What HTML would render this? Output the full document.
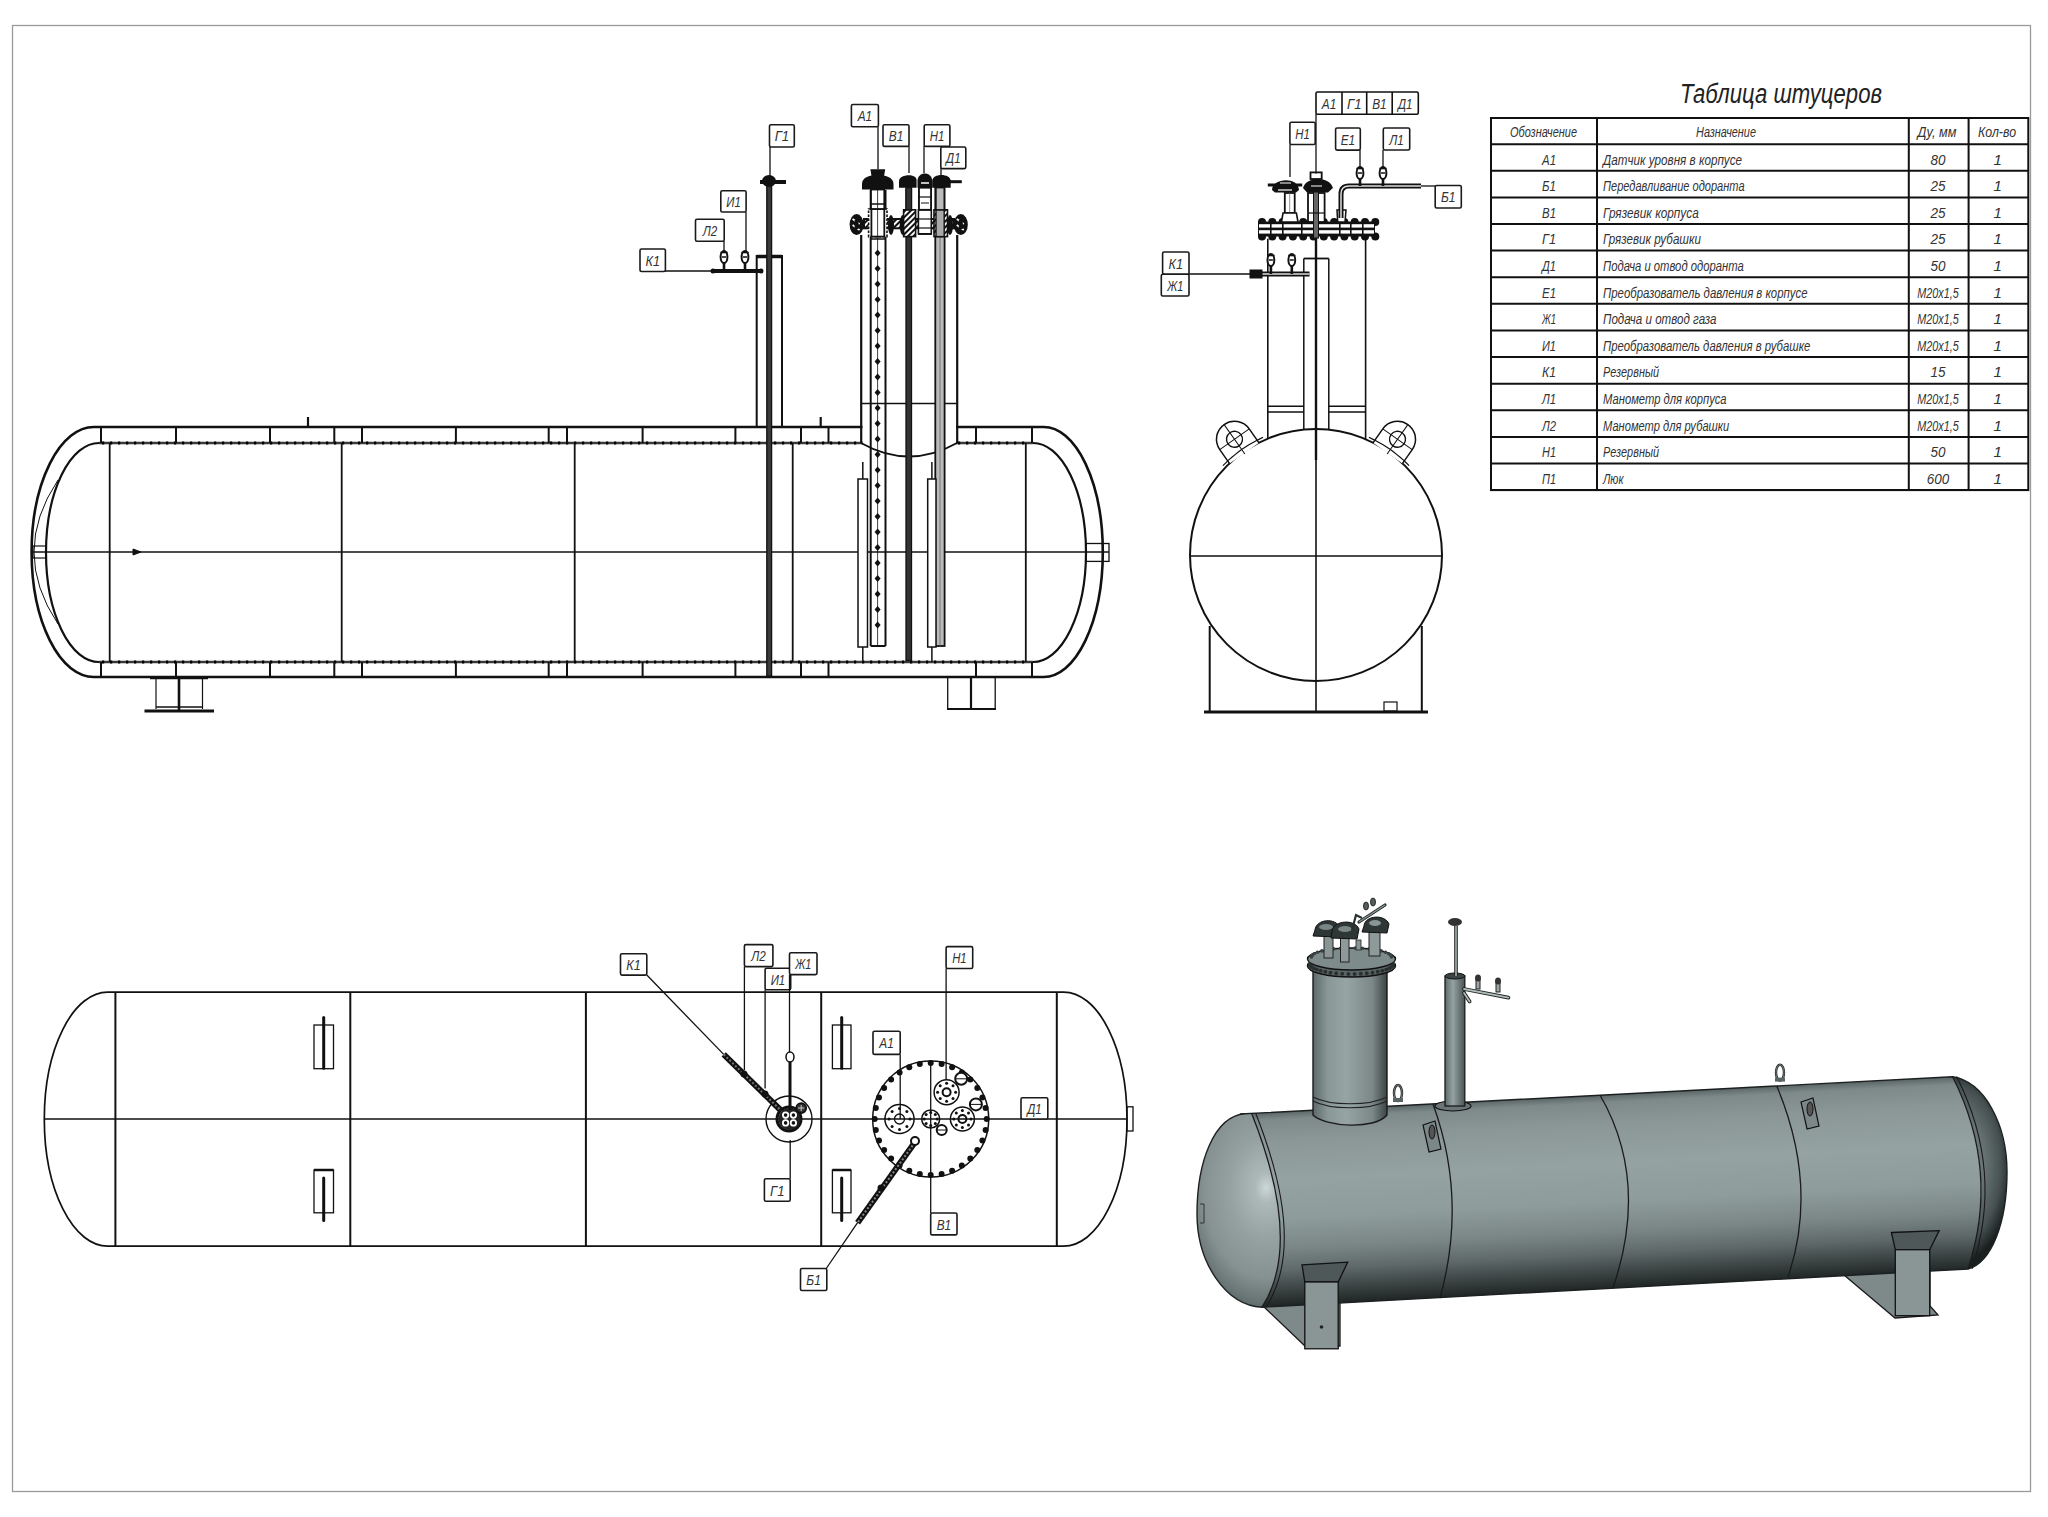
<!DOCTYPE html>
<html><head><meta charset="utf-8"><title>drawing</title>
<style>
html,body{margin:0;padding:0;background:#fff;overflow:hidden;}
svg{display:block;}
.lb{font-family:"Liberation Sans",sans-serif;font-style:italic;fill:#333;}
.tx{font-family:"Liberation Sans",sans-serif;font-style:italic;fill:#333;}
.tt{font-family:"Liberation Sans",sans-serif;font-style:italic;fill:#222;}
</style></head><body>
<svg width="2048" height="1517" viewBox="0 0 2048 1517" stroke-linecap="butt">
<rect x="0" y="0" width="2048" height="1517" fill="#fff"/>
<defs>
<linearGradient id="gBody" gradientUnits="userSpaceOnUse" x1="1600" y1="1095" x2="1610" y2="1289">
<stop offset="0" stop-color="#5a6464"/>
<stop offset="0.04" stop-color="#7e8a8a"/>
<stop offset="0.15" stop-color="#8b9797"/>
<stop offset="0.35" stop-color="#95a2a2"/>
<stop offset="0.55" stop-color="#8f9c9c"/>
<stop offset="0.7" stop-color="#7b8787"/>
<stop offset="0.82" stop-color="#5e6868"/>
<stop offset="0.92" stop-color="#3a4242"/>
<stop offset="1" stop-color="#1f2525"/>
</linearGradient>
<radialGradient id="gLHead" gradientUnits="userSpaceOnUse" cx="1266" cy="1190" r="105" fx="1266" fy="1188" gradientTransform="translate(1266 1190) scale(0.85 1.2) translate(-1266 -1190)">
<stop offset="0" stop-color="#ccd8d8"/>
<stop offset="0.12" stop-color="#adb9b9"/>
<stop offset="0.4" stop-color="#96a2a2"/>
<stop offset="0.7" stop-color="#869292"/>
<stop offset="0.88" stop-color="#6a7676"/>
<stop offset="1" stop-color="#525c5c"/>
</radialGradient>
<radialGradient id="gRHead" gradientUnits="userSpaceOnUse" cx="1955" cy="1165" r="58" fx="1955" fy="1165" gradientTransform="translate(1955 1165) scale(1 1.7) translate(-1955 -1165)">
<stop offset="0" stop-color="#7e8a8a"/>
<stop offset="0.5" stop-color="#687474"/>
<stop offset="0.8" stop-color="#465050"/>
<stop offset="1" stop-color="#1a2020"/>
</radialGradient>
<linearGradient id="gRiser" x1="0" y1="0" x2="1" y2="0">
<stop offset="0" stop-color="#5e6a6a"/>
<stop offset="0.2" stop-color="#8a9797"/>
<stop offset="0.45" stop-color="#97a4a4"/>
<stop offset="0.8" stop-color="#7c8888"/>
<stop offset="1" stop-color="#3c4444"/>
</linearGradient>
<linearGradient id="gPipe" x1="0" y1="0" x2="1" y2="0">
<stop offset="0" stop-color="#5e6a6a"/>
<stop offset="0.4" stop-color="#95a2a2"/>
<stop offset="1" stop-color="#4a5454"/>
</linearGradient>
</defs>
<path d="M 1262 1305 L 1305 1346 L 1340 1346 L 1340 1300 Z" fill="#7e8a8a" stroke="#1a1a1a" stroke-width="1.3"/>
<path d="M 1844 1275 L 1895 1318 L 1938 1315 L 1930 1306 L 1930 1268 Z" fill="#7e8a8a" stroke="#1a1a1a" stroke-width="1.3"/>
<path d="M 1251.7 1113.4 L 1952.6 1076.8 Q 2000.8 1171.1 1968 1269 L 1262 1307.2 Q 1303.15 1243.2 1251.7 1113.4 Z" fill="url(#gBody)"/>
<path d="M 1952.6 1076.8 C 1985 1082, 2007 1125, 2007 1172 C 2007 1222, 1992 1262, 1968 1269 Q 2000.8 1171.1 1952.6 1076.8 Z" fill="url(#gRHead)"/>
<path d="M 1251.7 1113.4 Q 1303.15 1243.2 1262 1307.2 C 1225 1305, 1197 1262, 1197 1214 C 1197 1162, 1214 1116, 1245 1113.7 L 1251.7 1113.4 Z" fill="url(#gLHead)"/>
<path d="M 1240 1114 L 1952.6 1076.8 C 1985 1082, 2007 1125, 2007 1172 C 2007 1222, 1992 1262, 1968 1269 L 1262 1307.2 C 1225 1305, 1197 1262, 1197 1214 C 1197 1162, 1214 1116, 1245 1113.7 Z" stroke="#1c2020" stroke-width="1.4" fill="none"/>
<path d="M 1251.7 1113.4 Q 1303.2 1243.7 1262 1307.2" stroke="#1a1a1a" stroke-width="1.3" fill="none"/>
<path d="M 1255.7 1113.2 Q 1307.2 1243.7 1266 1307.0" stroke="#1a1a1a" stroke-width="1.1" fill="none"/>
<path d="M 1433 1104 Q 1467.5 1199.0 1440 1298" stroke="#1a1a1a" stroke-width="1.3" fill="none"/>
<path d="M 1600 1095 Q 1649.5 1180.5 1613 1288" stroke="#1a1a1a" stroke-width="1.3" fill="none"/>
<path d="M 1776.8 1086 Q 1818.8 1186.5 1788 1277" stroke="#1a1a1a" stroke-width="1.3" fill="none"/>
<path d="M 1952.6 1076.8 Q 2000.3 1171.1 1968 1269" stroke="#1a1a1a" stroke-width="1.3" fill="none"/>
<path d="M 1956.6 1076.6 Q 2004.3 1171.1 1972 1268.8" stroke="#1a1a1a" stroke-width="1.1" fill="none"/>
<path d="M 1302 1264.8 L 1347.7 1262.2 L 1338.2 1282 L 1304.8 1282 Z" fill="#4e5858" stroke="#111" stroke-width="1.3"/>
<rect x="1304.8" y="1282" width="33.4" height="66.8" fill="#8a9595" stroke="#111" stroke-width="1.3"/>
<circle cx="1321.5" cy="1327" r="1.8" fill="#222"/>
<path d="M 1891.4 1232.5 L 1939.2 1230.6 L 1929.7 1249.7 L 1895.3 1249.7 Z" fill="#4e5858" stroke="#111" stroke-width="1.3"/>
<rect x="1895.3" y="1249.7" width="34.4" height="66" fill="#8a9595" stroke="#111" stroke-width="1.3"/>
<path d="M 1313 965 L 1313 1115 C 1325 1127, 1375 1130, 1387 1115 L 1387 965 Z" fill="url(#gRiser)" stroke="#1a1a1a" stroke-width="1.4"/>
<path d="M 1313 1097 C 1330 1106, 1370 1106, 1387 1097" stroke="#222" stroke-width="1.2" fill="none"/>
<path d="M 1313 1101 C 1330 1110, 1370 1110, 1387 1101" stroke="#222" stroke-width="1.2" fill="none"/>
<ellipse cx="1351.5" cy="966" rx="44" ry="11" fill="#5a6565" stroke="#111" stroke-width="1.4"/>
<ellipse cx="1351.5" cy="959" rx="44" ry="11" fill="#7e8b8b" stroke="#111" stroke-width="1.4"/>
<circle cx="1309.5" cy="964.0" r="2" fill="#2a3030"/>
<circle cx="1310.0" cy="965.5" r="2" fill="#2a3030"/>
<circle cx="1311.4" cy="966.9" r="2" fill="#2a3030"/>
<circle cx="1313.7" cy="968.3" r="2" fill="#2a3030"/>
<circle cx="1316.8" cy="969.6" r="2" fill="#2a3030"/>
<circle cx="1320.7" cy="970.8" r="2" fill="#2a3030"/>
<circle cx="1325.3" cy="971.8" r="2" fill="#2a3030"/>
<circle cx="1330.5" cy="972.7" r="2" fill="#2a3030"/>
<circle cx="1336.2" cy="973.3" r="2" fill="#2a3030"/>
<circle cx="1342.2" cy="973.7" r="2" fill="#2a3030"/>
<circle cx="1348.4" cy="974.0" r="2" fill="#2a3030"/>
<circle cx="1354.6" cy="974.0" r="2" fill="#2a3030"/>
<circle cx="1360.8" cy="973.7" r="2" fill="#2a3030"/>
<circle cx="1366.8" cy="973.3" r="2" fill="#2a3030"/>
<circle cx="1372.5" cy="972.7" r="2" fill="#2a3030"/>
<circle cx="1377.7" cy="971.8" r="2" fill="#2a3030"/>
<circle cx="1382.3" cy="970.8" r="2" fill="#2a3030"/>
<circle cx="1386.2" cy="969.6" r="2" fill="#2a3030"/>
<circle cx="1389.3" cy="968.3" r="2" fill="#2a3030"/>
<circle cx="1391.6" cy="966.9" r="2" fill="#2a3030"/>
<circle cx="1393.0" cy="965.5" r="2" fill="#2a3030"/>
<circle cx="1393.5" cy="964.0" r="2" fill="#2a3030"/>
<circle cx="1311.5" cy="957.0" r="1.8" fill="#3a4242"/>
<circle cx="1312.2" cy="955.3" r="1.8" fill="#3a4242"/>
<circle cx="1314.2" cy="953.7" r="1.8" fill="#3a4242"/>
<circle cx="1317.5" cy="952.3" r="1.8" fill="#3a4242"/>
<circle cx="1321.9" cy="950.9" r="1.8" fill="#3a4242"/>
<circle cx="1327.4" cy="949.8" r="1.8" fill="#3a4242"/>
<circle cx="1333.7" cy="948.9" r="1.8" fill="#3a4242"/>
<circle cx="1340.6" cy="948.3" r="1.8" fill="#3a4242"/>
<circle cx="1347.8" cy="948.0" r="1.8" fill="#3a4242"/>
<circle cx="1355.2" cy="948.0" r="1.8" fill="#3a4242"/>
<circle cx="1362.4" cy="948.3" r="1.8" fill="#3a4242"/>
<circle cx="1369.3" cy="948.9" r="1.8" fill="#3a4242"/>
<circle cx="1375.6" cy="949.8" r="1.8" fill="#3a4242"/>
<circle cx="1381.1" cy="950.9" r="1.8" fill="#3a4242"/>
<circle cx="1385.5" cy="952.3" r="1.8" fill="#3a4242"/>
<circle cx="1388.8" cy="953.7" r="1.8" fill="#3a4242"/>
<circle cx="1390.8" cy="955.3" r="1.8" fill="#3a4242"/>
<circle cx="1391.5" cy="957.0" r="1.8" fill="#3a4242"/>
<rect x="1324" y="934" width="9" height="24" fill="#8a9696" stroke="#222" stroke-width="1"/>
<rect x="1340.5" y="938" width="8.5" height="24" fill="#8e9a9a" stroke="#222" stroke-width="1"/>
<rect x="1369" y="928" width="11" height="28" fill="#8e9a9a" stroke="#222" stroke-width="1"/>
<rect x="1356" y="940" width="5" height="10" fill="#8a9696" stroke="#222" stroke-width="0.8"/>
<path d="M 1315 930 C 1316 919, 1336 917, 1340 928 L 1338 937 L 1313 936 Z" fill="#2e3636" stroke="#111" stroke-width="1"/>
<path d="M 1332 931 C 1334 920, 1355 919, 1359 929 L 1357 939 L 1331 938 Z" fill="#2e3636" stroke="#111" stroke-width="1"/>
<path d="M 1364 926 C 1365 915, 1385 914, 1389 924 L 1387 933 L 1362 932 Z" fill="#2e3636" stroke="#111" stroke-width="1"/>
<ellipse cx="1326" cy="927" rx="7" ry="3" fill="#7a8686"/><ellipse cx="1345" cy="929" rx="7" ry="3" fill="#7a8686"/><ellipse cx="1375" cy="923" rx="6" ry="3" fill="#8a9696"/>
<path d="M 1359 922 L 1385 905" stroke="#2a3030" stroke-width="3.2" stroke-linecap="round"/>
<path d="M 1359 922 L 1385 905" stroke="#8a9696" stroke-width="1.2"/>
<ellipse cx="1366" cy="906" rx="2.5" ry="4" fill="#555f5f" stroke="#111" stroke-width="0.8"/><ellipse cx="1373" cy="902" rx="2.5" ry="4" fill="#555f5f" stroke="#111" stroke-width="0.8"/>
<path d="M 1352 930 L 1356 915 L 1362 918" stroke="#2a3030" stroke-width="2.2" fill="none"/>
<ellipse cx="1453" cy="1106" rx="18" ry="5" fill="#6a7676" stroke="#111" stroke-width="1.2"/>
<rect x="1445" y="976" width="19.8" height="130" fill="url(#gPipe)" stroke="#1a1a1a" stroke-width="1.3"/>
<ellipse cx="1455" cy="976" rx="10" ry="3" fill="#3a4444" stroke="#111" stroke-width="1"/>
<line x1="1456" y1="926" x2="1456" y2="976" stroke="#222" stroke-width="3.6"/>
<line x1="1456" y1="926" x2="1456" y2="976" stroke="#a8b4b4" stroke-width="1.6"/>
<ellipse cx="1455" cy="922" rx="7" ry="4" fill="#333"/>
<path d="M 1464 989 L 1508.4 997.6" stroke="#222" stroke-width="3.8" stroke-linecap="round"/>
<path d="M 1464 989 L 1508.4 997.6" stroke="#b0bcbc" stroke-width="1.8" stroke-linecap="round"/>
<path d="M 1464 993 L 1469.6 1001.5" stroke="#222" stroke-width="3.8" stroke-linecap="round"/>
<path d="M 1464 993 L 1469.6 1001.5" stroke="#b0bcbc" stroke-width="1.8" stroke-linecap="round"/>
<rect x="1476" y="979" width="4" height="10" fill="#9aa6a6" stroke="#222" stroke-width="1"/><rect x="1496" y="982" width="4" height="10" fill="#9aa6a6" stroke="#222" stroke-width="1"/>
<ellipse cx="1478" cy="978" rx="3" ry="3.5" fill="#333"/><ellipse cx="1498" cy="981" rx="3" ry="3.5" fill="#333"/>
<path d="M 1423 1125 L 1435 1121 L 1441 1149 L 1429 1152 Z" fill="#7c8888" stroke="#111" stroke-width="1.2"/>
<ellipse cx="1432" cy="1132" rx="3" ry="7" fill="#555" stroke="#111" stroke-width="1"/>
<path d="M 1801 1102 L 1813 1098 L 1819 1126 L 1807 1129 Z" fill="#7c8888" stroke="#111" stroke-width="1.2"/>
<ellipse cx="1810" cy="1109" rx="3" ry="7" fill="#555" stroke="#111" stroke-width="1"/>
<ellipse cx="1398" cy="1093" rx="4" ry="8" fill="none" stroke="#222" stroke-width="2.4"/>
<ellipse cx="1398" cy="1093" rx="4" ry="8" fill="none" stroke="#8a9696" stroke-width="0.8"/>
<rect x="1393" y="1098" width="10" height="4" fill="#5a6464"/>
<ellipse cx="1780" cy="1072.6" rx="4" ry="8" fill="none" stroke="#222" stroke-width="2.4"/>
<ellipse cx="1780" cy="1072.6" rx="4" ry="8" fill="none" stroke="#8a9696" stroke-width="0.8"/>
<rect x="1775" y="1077.6" width="10" height="4" fill="#5a6464"/>
<path d="M 1200 1204 L 1204 1204 L 1204 1223 L 1200 1223" stroke="#333" stroke-width="1" fill="none"/>
<rect x="12.5" y="25.5" width="2018.0" height="1466.0" stroke="#9a9a9a" stroke-width="1.3" fill="none" />
<path d="M 93.8 427 L 1043.7 427 A 59.1 125 0 0 1 1102.8 552 A 59.1 125 0 0 1 1043.7 677 L 93.8 677 A 62.2 125 0 0 1 31.6 552 A 62.2 125 0 0 1 93.8 427 Z" stroke="#111" stroke-width="2.6" fill="none" />
<path d="M 99 443 L 1033 443 A 53 109.5 0 0 1 1086 552.5 A 53 109.5 0 0 1 1033 662 L 99 662 A 53 109.5 0 0 1 46 552.5 A 53 109.5 0 0 1 99 443 Z" stroke="#111" stroke-width="2.2" fill="none" />
<line x1="99.0" y1="443.0" x2="1033.0" y2="443.0" stroke="#3a3a3a" stroke-width="2.6" />
<line x1="102.0" y1="443.0" x2="1030.0" y2="443.0" stroke="#000" stroke-width="2.8" stroke-dasharray="2.2 5.8"/>
<line x1="99.0" y1="662.0" x2="1033.0" y2="662.0" stroke="#3a3a3a" stroke-width="2.6" />
<line x1="102.0" y1="662.0" x2="1030.0" y2="662.0" stroke="#000" stroke-width="2.8" stroke-dasharray="2.2 5.8"/>
<path d="M 58 480 Q 10 552 58 624" stroke="#111" stroke-width="1" fill="none" />
<line x1="101.0" y1="427.0" x2="101.0" y2="443.0" stroke="#111" stroke-width="2" />
<line x1="101.0" y1="662.0" x2="101.0" y2="677.0" stroke="#111" stroke-width="2" />
<line x1="176.0" y1="427.0" x2="176.0" y2="443.0" stroke="#111" stroke-width="2" />
<line x1="176.0" y1="662.0" x2="176.0" y2="677.0" stroke="#111" stroke-width="2" />
<line x1="270.0" y1="427.0" x2="270.0" y2="443.0" stroke="#111" stroke-width="2" />
<line x1="270.0" y1="662.0" x2="270.0" y2="677.0" stroke="#111" stroke-width="2" />
<line x1="334.3" y1="427.0" x2="334.3" y2="443.0" stroke="#111" stroke-width="2" />
<line x1="334.3" y1="662.0" x2="334.3" y2="677.0" stroke="#111" stroke-width="2" />
<line x1="362.0" y1="427.0" x2="362.0" y2="443.0" stroke="#111" stroke-width="2" />
<line x1="362.0" y1="662.0" x2="362.0" y2="677.0" stroke="#111" stroke-width="2" />
<line x1="455.9" y1="427.0" x2="455.9" y2="443.0" stroke="#111" stroke-width="2" />
<line x1="455.9" y1="662.0" x2="455.9" y2="677.0" stroke="#111" stroke-width="2" />
<line x1="548.7" y1="427.0" x2="548.7" y2="443.0" stroke="#111" stroke-width="2" />
<line x1="548.7" y1="662.0" x2="548.7" y2="677.0" stroke="#111" stroke-width="2" />
<line x1="567.0" y1="427.0" x2="567.0" y2="443.0" stroke="#111" stroke-width="2" />
<line x1="567.0" y1="662.0" x2="567.0" y2="677.0" stroke="#111" stroke-width="2" />
<line x1="642.6" y1="427.0" x2="642.6" y2="443.0" stroke="#111" stroke-width="2" />
<line x1="642.6" y1="662.0" x2="642.6" y2="677.0" stroke="#111" stroke-width="2" />
<line x1="735.4" y1="427.0" x2="735.4" y2="443.0" stroke="#111" stroke-width="2" />
<line x1="735.4" y1="662.0" x2="735.4" y2="677.0" stroke="#111" stroke-width="2" />
<line x1="801.0" y1="427.0" x2="801.0" y2="443.0" stroke="#111" stroke-width="2" />
<line x1="801.0" y1="662.0" x2="801.0" y2="677.0" stroke="#111" stroke-width="2" />
<line x1="828.5" y1="427.0" x2="828.5" y2="443.0" stroke="#111" stroke-width="2" />
<line x1="828.5" y1="662.0" x2="828.5" y2="677.0" stroke="#111" stroke-width="2" />
<line x1="976.0" y1="427.0" x2="976.0" y2="443.0" stroke="#111" stroke-width="2" />
<line x1="976.0" y1="662.0" x2="976.0" y2="677.0" stroke="#111" stroke-width="2" />
<line x1="1032.0" y1="427.0" x2="1032.0" y2="443.0" stroke="#111" stroke-width="2" />
<line x1="1032.0" y1="662.0" x2="1032.0" y2="677.0" stroke="#111" stroke-width="2" />
<line x1="109.7" y1="443.0" x2="109.7" y2="662.0" stroke="#111" stroke-width="1.8" />
<line x1="341.7" y1="443.0" x2="341.7" y2="662.0" stroke="#111" stroke-width="1.8" />
<line x1="574.7" y1="443.0" x2="574.7" y2="662.0" stroke="#111" stroke-width="1.8" />
<line x1="792.7" y1="443.0" x2="792.7" y2="662.0" stroke="#111" stroke-width="1.8" />
<line x1="1025.8" y1="443.0" x2="1025.8" y2="662.0" stroke="#111" stroke-width="1.8" />
<line x1="33.0" y1="552.0" x2="1109.0" y2="552.0" stroke="#111" stroke-width="1.5" />
<path d="M 133 549 L 141 552 L 133 555 Z" stroke="#111" stroke-width="1" fill="#111" />
<rect x="33.0" y="546.0" width="13.0" height="12.0" stroke="#111" stroke-width="1.2" fill="none" />
<rect x="1086.0" y="543.5" width="23.0" height="17.9" stroke="#111" stroke-width="1.3" fill="none" />
<line x1="308.0" y1="417.0" x2="308.0" y2="427.0" stroke="#111" stroke-width="2.2" />
<line x1="820.7" y1="417.0" x2="820.7" y2="427.0" stroke="#111" stroke-width="2.2" />
<line x1="144.5" y1="711.0" x2="214.0" y2="711.0" stroke="#111" stroke-width="3" />
<line x1="150.0" y1="678.5" x2="208.0" y2="678.5" stroke="#111" stroke-width="1.5" />
<line x1="156.0" y1="678.0" x2="156.0" y2="709.0" stroke="#111" stroke-width="1.2" />
<line x1="202.5" y1="678.0" x2="202.5" y2="709.0" stroke="#111" stroke-width="1.2" />
<line x1="179.0" y1="677.0" x2="179.0" y2="710.0" stroke="#111" stroke-width="2.6" />
<line x1="156.0" y1="707.0" x2="202.5" y2="707.0" stroke="#111" stroke-width="1.5" />
<rect x="947.7" y="677.0" width="47.5" height="32.0" stroke="#111" stroke-width="1.3" fill="none" />
<line x1="971.0" y1="677.0" x2="971.0" y2="709.0" stroke="#111" stroke-width="2.2" />
<line x1="947.0" y1="709.0" x2="996.0" y2="709.0" stroke="#111" stroke-width="2.2" />
<rect x="756.7" y="256.0" width="25.3" height="171.0" stroke="#111" stroke-width="2" fill="none" />
<line x1="756.7" y1="256.5" x2="782.0" y2="256.5" stroke="#111" stroke-width="3.5" />
<rect x="766.8" y="183.0" width="4.8" height="493.0" stroke="#111" stroke-width="1.3" fill="#3a3a3a" />
<path d="M 760 182 L 786 182" stroke="#111" stroke-width="4" fill="none" />
<ellipse cx="769" cy="181" rx="7" ry="6" fill="#111"/>
<line x1="713.0" y1="271.0" x2="761.0" y2="271.0" stroke="#111" stroke-width="4" />
<circle cx="713" cy="271" r="2.5" fill="#111"/>
<circle cx="761" cy="271" r="2.5" fill="#111"/>
<ellipse cx="724" cy="257" rx="3.4" ry="6" fill="#fff" stroke="#111" stroke-width="2"/>
<path d="M 722 257 L 726 257" stroke="#111" stroke-width="1.5"/>
<path d="M 720.4 252.5 L 727.6 252.5" stroke="#111" stroke-width="1.6"/>
<line x1="724.0" y1="263.0" x2="724.0" y2="271.0" stroke="#111" stroke-width="2.6" />
<ellipse cx="745" cy="257" rx="3.4" ry="6" fill="#fff" stroke="#111" stroke-width="2"/>
<path d="M 743 257 L 747 257" stroke="#111" stroke-width="1.5"/>
<path d="M 741.4 252.5 L 748.6 252.5" stroke="#111" stroke-width="1.6"/>
<line x1="745.0" y1="263.0" x2="745.0" y2="271.0" stroke="#111" stroke-width="2.6" />
<rect x="862.5" y="420.0" width="93.5" height="32.0" stroke="none" stroke-width="0" fill="#fff" />
<line x1="861.2" y1="235.0" x2="861.2" y2="443.0" stroke="#111" stroke-width="2.2" />
<line x1="957.2" y1="235.0" x2="957.2" y2="443.0" stroke="#111" stroke-width="2.2" />
<line x1="861.0" y1="403.4" x2="957.0" y2="403.4" stroke="#111" stroke-width="1.5" />
<path d="M 861 443 Q 909 470 957 443" stroke="#111" stroke-width="2" fill="none" />
<line x1="870.7" y1="190.0" x2="870.7" y2="646.0" stroke="#111" stroke-width="2" />
<line x1="885.5" y1="190.0" x2="885.5" y2="646.0" stroke="#111" stroke-width="2" />
<line x1="870.7" y1="646.0" x2="885.5" y2="646.0" stroke="#111" stroke-width="2" />
<line x1="870.7" y1="204.0" x2="885.5" y2="204.0" stroke="#111" stroke-width="1.5" />
<line x1="870.7" y1="239.0" x2="885.5" y2="239.0" stroke="#111" stroke-width="1.5" />
<path d="M 877.6 249.5 L 880.6 253.0 L 877.6 256.5 L 874.6 253.0 Z" fill="#111"/>
<path d="M 877.6 265.0 L 880.6 268.5 L 877.6 272.0 L 874.6 268.5 Z" fill="#111"/>
<path d="M 877.6 280.5 L 880.6 284.0 L 877.6 287.5 L 874.6 284.0 Z" fill="#111"/>
<path d="M 877.6 296.0 L 880.6 299.5 L 877.6 303.0 L 874.6 299.5 Z" fill="#111"/>
<path d="M 877.6 311.5 L 880.6 315.0 L 877.6 318.5 L 874.6 315.0 Z" fill="#111"/>
<path d="M 877.6 327.0 L 880.6 330.5 L 877.6 334.0 L 874.6 330.5 Z" fill="#111"/>
<path d="M 877.6 342.5 L 880.6 346.0 L 877.6 349.5 L 874.6 346.0 Z" fill="#111"/>
<path d="M 877.6 358.0 L 880.6 361.5 L 877.6 365.0 L 874.6 361.5 Z" fill="#111"/>
<path d="M 877.6 373.5 L 880.6 377.0 L 877.6 380.5 L 874.6 377.0 Z" fill="#111"/>
<path d="M 877.6 389.0 L 880.6 392.5 L 877.6 396.0 L 874.6 392.5 Z" fill="#111"/>
<path d="M 877.6 404.5 L 880.6 408.0 L 877.6 411.5 L 874.6 408.0 Z" fill="#111"/>
<path d="M 877.6 420.0 L 880.6 423.5 L 877.6 427.0 L 874.6 423.5 Z" fill="#111"/>
<path d="M 877.6 435.5 L 880.6 439.0 L 877.6 442.5 L 874.6 439.0 Z" fill="#111"/>
<path d="M 877.6 451.0 L 880.6 454.5 L 877.6 458.0 L 874.6 454.5 Z" fill="#111"/>
<path d="M 877.6 466.5 L 880.6 470.0 L 877.6 473.5 L 874.6 470.0 Z" fill="#111"/>
<path d="M 877.6 482.0 L 880.6 485.5 L 877.6 489.0 L 874.6 485.5 Z" fill="#111"/>
<path d="M 877.6 497.5 L 880.6 501.0 L 877.6 504.5 L 874.6 501.0 Z" fill="#111"/>
<path d="M 877.6 513.0 L 880.6 516.5 L 877.6 520.0 L 874.6 516.5 Z" fill="#111"/>
<path d="M 877.6 528.5 L 880.6 532.0 L 877.6 535.5 L 874.6 532.0 Z" fill="#111"/>
<path d="M 877.6 544.0 L 880.6 547.5 L 877.6 551.0 L 874.6 547.5 Z" fill="#111"/>
<path d="M 877.6 559.5 L 880.6 563.0 L 877.6 566.5 L 874.6 563.0 Z" fill="#111"/>
<path d="M 877.6 575.0 L 880.6 578.5 L 877.6 582.0 L 874.6 578.5 Z" fill="#111"/>
<path d="M 877.6 590.5 L 880.6 594.0 L 877.6 597.5 L 874.6 594.0 Z" fill="#111"/>
<path d="M 877.6 606.0 L 880.6 609.5 L 877.6 613.0 L 874.6 609.5 Z" fill="#111"/>
<path d="M 877.6 621.5 L 880.6 625.0 L 877.6 628.5 L 874.6 625.0 Z" fill="#111"/>
<line x1="877.6" y1="190.0" x2="877.6" y2="646.0" stroke="#111" stroke-width="0.8" />
<rect x="906.0" y="189.0" width="5.5" height="471.5" stroke="#111" stroke-width="1.3" fill="#333" />
<rect x="935.3" y="188.0" width="9.3" height="458.0" stroke="#111" stroke-width="1.8" fill="#bbb" />
<line x1="940.0" y1="188.0" x2="940.0" y2="646.0" stroke="#666" stroke-width="0.8" />
<rect x="919.0" y="188.0" width="12.0" height="46.0" stroke="#111" stroke-width="1.8" fill="#fff" />
<line x1="919.0" y1="205.0" x2="931.0" y2="205.0" stroke="#111" stroke-width="1.2" />
<rect x="858.0" y="479.0" width="9.5" height="168.0" stroke="#111" stroke-width="1.5" fill="#fff" />
<line x1="862.8" y1="462.0" x2="862.8" y2="479.0" stroke="#111" stroke-width="1.5" />
<line x1="862.8" y1="647.0" x2="862.8" y2="662.0" stroke="#111" stroke-width="1.5" />
<rect x="927.7" y="479.0" width="8.3" height="168.0" stroke="#111" stroke-width="1.5" fill="#fff" />
<line x1="931.9" y1="462.0" x2="931.9" y2="479.0" stroke="#111" stroke-width="1.5" />
<line x1="931.9" y1="647.0" x2="931.9" y2="662.0" stroke="#111" stroke-width="1.5" />
<defs><pattern id="hatch" width="4" height="4" patternUnits="userSpaceOnUse" patternTransform="rotate(45)"><rect width="4" height="4" fill="#fff"/><rect width="2" height="4" fill="#111"/></pattern></defs>
<rect x="864.0" y="219.0" width="90.0" height="9.3" stroke="#111" stroke-width="2" fill="url(#hatch)" />
<ellipse cx="856.6" cy="224.6" rx="7" ry="10.5" fill="#111"/>
<path d="M 852.6 219 L 859.6 224 M 852.6 225 L 859.6 230" stroke="#fff" stroke-width="1.6"/>
<rect x="854.6" y="220" width="4" height="9" fill="#111"/>
<ellipse cx="960.8" cy="224.6" rx="7" ry="10.5" fill="#111"/>
<path d="M 956.8 219 L 963.8 224 M 956.8 225 L 963.8 230" stroke="#fff" stroke-width="1.6"/>
<rect x="958.8" y="220" width="4" height="9" fill="#111"/>
<rect x="868.6" y="209.0" width="18.4" height="27.6" stroke="#111" stroke-width="1.6" fill="#fff" stroke-dasharray="2.5 1.5"/>
<rect x="871.4" y="209.0" width="12.9" height="27.6" stroke="#111" stroke-width="1.8" fill="#fff" />
<line x1="877.6" y1="209.0" x2="877.6" y2="236.6" stroke="#111" stroke-width="0.8" />
<ellipse cx="891" cy="225" rx="3" ry="10" fill="#111"/>
<ellipse cx="902.7" cy="225" rx="3" ry="10" fill="#111"/>
<rect x="903.6" y="209.8" width="12.0" height="26.8" stroke="#111" stroke-width="1.6" fill="url(#hatch)" />
<rect x="918.4" y="209.8" width="12.9" height="24.0" stroke="#111" stroke-width="1.6" fill="#fff" />
<line x1="918.4" y1="219.0" x2="931.3" y2="219.0" stroke="#111" stroke-width="1.2" />
<line x1="918.4" y1="228.0" x2="931.3" y2="228.0" stroke="#111" stroke-width="1.2" />
<rect x="934.0" y="209.8" width="13.5" height="26.8" stroke="#111" stroke-width="1.6" fill="url(#hatch)" />
<rect x="936.0" y="209.8" width="8.2" height="26.8" stroke="#111" stroke-width="1.4" fill="#aaa" />
<ellipse cx="950" cy="225" rx="3" ry="10" fill="#111"/>
<path d="M 870.4 169.2 L 885.2 169.2 L 884 176.6 L 871.6 176.6 Z" fill="#111"/>
<path d="M 862 184 C 862 177, 870 175, 877.5 175 C 885 175, 893.5 177, 893.5 184 L 893.5 189.5 L 862 189.5 Z" fill="#111"/>
<rect x="871.0" y="189.5" width="13.3" height="19.5" stroke="#111" stroke-width="1.8" fill="#fff" />
<line x1="871.0" y1="204.0" x2="884.3" y2="204.0" stroke="#111" stroke-width="1.5" />
<line x1="877.6" y1="189.5" x2="877.6" y2="209.0" stroke="#111" stroke-width="0.8" />
<path d="M 899 181 C 899 174, 916.6 173, 916.6 180 L 916.6 187.7 L 899 187.7 Z" fill="#111"/>
<path d="M 917.5 181 C 917.5 171, 932.2 171, 932.2 181 L 932.2 187.7 L 917.5 187.7 Z" fill="#111"/>
<path d="M 932.2 181 C 932.2 173, 950.7 173, 950.7 181 L 950.7 187.7 L 932.2 187.7 Z" fill="#111"/>
<path d="M 948 181.7 L 961.8 181.7" stroke="#111" stroke-width="3"/>
<path d="M 921 183 L 929 183" stroke="#fff" stroke-width="1.5"/>
<rect x="906.0" y="187.7" width="5.5" height="22.1" stroke="#111" stroke-width="1.2" fill="#333" />
<rect x="919.0" y="187.7" width="12.0" height="22.1" stroke="#111" stroke-width="1.8" fill="#fff" />
<line x1="919.0" y1="197.0" x2="931.0" y2="197.0" stroke="#111" stroke-width="1.2" />
<line x1="921.0" y1="203.0" x2="929.0" y2="203.0" stroke="#111" stroke-width="1" />
<rect x="936.0" y="187.7" width="8.2" height="22.1" stroke="#111" stroke-width="1.4" fill="#bbb" />
<rect x="769.5" y="124.7" width="24.8" height="22.3" stroke="#1a1a1a" stroke-width="1.6" fill="#fff" rx="1.5"/>
<text x="781.9" y="141.4" class="lb" text-anchor="middle" font-size="15" textLength="14.5" lengthAdjust="spacingAndGlyphs">Г1</text>
<line x1="770.0" y1="147.0" x2="770.0" y2="176.0" stroke="#111" stroke-width="1.3" />
<rect x="720.8" y="190.8" width="25.3" height="21.2" stroke="#1a1a1a" stroke-width="1.6" fill="#fff" rx="1.5"/>
<text x="733.5" y="207.0" class="lb" text-anchor="middle" font-size="15" textLength="14.5" lengthAdjust="spacingAndGlyphs">И1</text>
<line x1="746.0" y1="212.0" x2="746.0" y2="252.0" stroke="#111" stroke-width="1.3" />
<rect x="695.5" y="219.3" width="28.7" height="22.0" stroke="#1a1a1a" stroke-width="1.6" fill="#fff" rx="1.5"/>
<text x="709.9" y="235.9" class="lb" text-anchor="middle" font-size="15" textLength="14.5" lengthAdjust="spacingAndGlyphs">Л2</text>
<line x1="724.0" y1="241.0" x2="724.0" y2="252.0" stroke="#111" stroke-width="1.3" />
<rect x="640.0" y="249.0" width="25.4" height="22.5" stroke="#1a1a1a" stroke-width="1.6" fill="#fff" rx="1.5"/>
<text x="652.7" y="265.9" class="lb" text-anchor="middle" font-size="15" textLength="14.5" lengthAdjust="spacingAndGlyphs">К1</text>
<line x1="665.0" y1="271.0" x2="713.0" y2="271.0" stroke="#111" stroke-width="1.3" />
<rect x="851.4" y="104.5" width="27.0" height="22.3" stroke="#1a1a1a" stroke-width="1.6" fill="#fff" rx="1.5"/>
<text x="864.9" y="121.2" class="lb" text-anchor="middle" font-size="15" textLength="14.5" lengthAdjust="spacingAndGlyphs">А1</text>
<line x1="878.0" y1="127.0" x2="878.0" y2="169.0" stroke="#111" stroke-width="1.3" />
<rect x="883.0" y="124.7" width="26.0" height="21.7" stroke="#1a1a1a" stroke-width="1.6" fill="#fff" rx="1.5"/>
<text x="896.0" y="141.2" class="lb" text-anchor="middle" font-size="15" textLength="14.5" lengthAdjust="spacingAndGlyphs">В1</text>
<line x1="909.0" y1="146.0" x2="909.0" y2="173.0" stroke="#111" stroke-width="1.3" />
<rect x="924.2" y="124.7" width="25.7" height="21.7" stroke="#1a1a1a" stroke-width="1.6" fill="#fff" rx="1.5"/>
<text x="937.0" y="141.2" class="lb" text-anchor="middle" font-size="15" textLength="14.5" lengthAdjust="spacingAndGlyphs">Н1</text>
<line x1="924.0" y1="146.0" x2="924.0" y2="173.0" stroke="#111" stroke-width="1.3" />
<rect x="940.8" y="147.0" width="25.0" height="21.6" stroke="#1a1a1a" stroke-width="1.6" fill="#fff" rx="1.5"/>
<text x="953.3" y="163.4" class="lb" text-anchor="middle" font-size="15" textLength="14.5" lengthAdjust="spacingAndGlyphs">Д1</text>
<line x1="941.0" y1="168.0" x2="941.0" y2="175.0" stroke="#111" stroke-width="1.3" />
<circle cx="1316.0" cy="555.0" r="126.0" stroke="#111" stroke-width="2" fill="none" />
<line x1="1190.0" y1="556.0" x2="1442.0" y2="556.0" stroke="#111" stroke-width="1.4" />
<line x1="1316.0" y1="173.0" x2="1316.0" y2="711.0" stroke="#111" stroke-width="1.6" />
<line x1="1267.8" y1="238.7" x2="1267.8" y2="439.0" stroke="#111" stroke-width="1.6" />
<line x1="1365.6" y1="238.7" x2="1365.6" y2="439.0" stroke="#111" stroke-width="1.6" />
<line x1="1303.8" y1="258.5" x2="1303.8" y2="430.0" stroke="#111" stroke-width="1.5" />
<line x1="1328.8" y1="258.5" x2="1328.8" y2="430.0" stroke="#111" stroke-width="1.5" />
<line x1="1303.8" y1="258.5" x2="1328.8" y2="258.5" stroke="#111" stroke-width="1.8" />
<line x1="1267.8" y1="406.3" x2="1303.8" y2="406.3" stroke="#111" stroke-width="1.5" />
<line x1="1267.8" y1="412.0" x2="1303.8" y2="412.0" stroke="#111" stroke-width="1.5" />
<line x1="1328.8" y1="406.3" x2="1365.6" y2="406.3" stroke="#111" stroke-width="1.5" />
<line x1="1328.8" y1="412.0" x2="1365.6" y2="412.0" stroke="#111" stroke-width="1.5" />
<g transform="translate(1234.5 439.3) rotate(-35.2)"><path d="M -18 17 L -18 0 A 18 18 0 0 1 18 0 L 18 17" stroke="#111" stroke-width="1.5" fill="#fff"/><circle cx="0" cy="0" r="8" stroke="#111" stroke-width="1.4" fill="none"/><path d="M 0 -18 L 0 18 M -18 0 L 18 0" stroke="#111" stroke-width="1"/></g>
<path d="M 1222.9 465.7 L 1225.8 462.8 L 1228.8 459.9 L 1231.9 457.2 L 1235.1 454.6 L 1238.3 452.0 L 1241.6 449.6 L 1245.1 447.3 L 1248.5 445.0 L 1252.1 442.9 L 1255.7 441.0 L 1259.4 439.1 L 1263.1 437.3" stroke="#111" stroke-width="1.2" fill="none"/>
<g transform="translate(1397.5 439.3) rotate(35.2)"><path d="M -18 17 L -18 0 A 18 18 0 0 1 18 0 L 18 17" stroke="#111" stroke-width="1.5" fill="#fff"/><circle cx="0" cy="0" r="8" stroke="#111" stroke-width="1.4" fill="none"/><path d="M 0 -18 L 0 18 M -18 0 L 18 0" stroke="#111" stroke-width="1"/></g>
<path d="M 1368.9 437.3 L 1372.6 439.1 L 1376.3 441.0 L 1379.9 442.9 L 1383.5 445.0 L 1386.9 447.3 L 1390.4 449.6 L 1393.7 452.0 L 1396.9 454.6 L 1400.1 457.2 L 1403.2 459.9 L 1406.2 462.8 L 1409.1 465.7" stroke="#111" stroke-width="1.2" fill="none"/>
<line x1="1316.0" y1="173.0" x2="1316.0" y2="460.0" stroke="#111" stroke-width="2.4" />
<line x1="1209.7" y1="626.0" x2="1209.7" y2="711.0" stroke="#111" stroke-width="2" />
<line x1="1421.8" y1="626.0" x2="1421.8" y2="711.0" stroke="#111" stroke-width="2" />
<line x1="1204.0" y1="712.0" x2="1428.0" y2="712.0" stroke="#111" stroke-width="3" />
<rect x="1384.0" y="702.0" width="13.0" height="9.0" stroke="#111" stroke-width="1.2" fill="none" />
<rect x="1258" y="221.5" width="117" height="15" fill="#111"/>
<circle cx="1262.0" cy="222" r="4" fill="#111"/><circle cx="1262.0" cy="236.5" r="4" fill="#111"/>
<circle cx="1272.3" cy="222" r="4" fill="#111"/><circle cx="1272.3" cy="236.5" r="4" fill="#111"/>
<circle cx="1282.6" cy="222" r="4" fill="#111"/><circle cx="1282.6" cy="236.5" r="4" fill="#111"/>
<circle cx="1292.9" cy="222" r="4" fill="#111"/><circle cx="1292.9" cy="236.5" r="4" fill="#111"/>
<circle cx="1303.2" cy="222" r="4" fill="#111"/><circle cx="1303.2" cy="236.5" r="4" fill="#111"/>
<circle cx="1313.5" cy="222" r="4" fill="#111"/><circle cx="1313.5" cy="236.5" r="4" fill="#111"/>
<circle cx="1323.8" cy="222" r="4" fill="#111"/><circle cx="1323.8" cy="236.5" r="4" fill="#111"/>
<circle cx="1334.1" cy="222" r="4" fill="#111"/><circle cx="1334.1" cy="236.5" r="4" fill="#111"/>
<circle cx="1344.4" cy="222" r="4" fill="#111"/><circle cx="1344.4" cy="236.5" r="4" fill="#111"/>
<circle cx="1354.7" cy="222" r="4" fill="#111"/><circle cx="1354.7" cy="236.5" r="4" fill="#111"/>
<circle cx="1365.0" cy="222" r="4" fill="#111"/><circle cx="1365.0" cy="236.5" r="4" fill="#111"/>
<circle cx="1375.3" cy="222" r="4" fill="#111"/><circle cx="1375.3" cy="236.5" r="4" fill="#111"/>
<rect x="1259" y="224.2" width="115" height="3.4" fill="#fff"/>
<rect x="1259" y="230.2" width="115" height="3.4" fill="#fff"/>
<rect x="1270" y="223" width="1.6" height="12" fill="#111"/>
<rect x="1282" y="223" width="1.6" height="12" fill="#111"/>
<rect x="1301" y="223" width="1.6" height="12" fill="#111"/>
<rect x="1316" y="223" width="1.6" height="12" fill="#111"/>
<rect x="1339" y="223" width="1.6" height="12" fill="#111"/>
<rect x="1350" y="223" width="1.6" height="12" fill="#111"/>
<rect x="1362" y="223" width="1.6" height="12" fill="#111"/>
<rect x="1284.8" y="193.0" width="9.9" height="20.0" stroke="#111" stroke-width="1.8" fill="#fff" />
<line x1="1289.7" y1="193.0" x2="1289.7" y2="213.0" stroke="#777" stroke-width="0.8" />
<path d="M 1283 213 L 1296.4 213 L 1298 222 L 1281.5 222 Z" fill="#fff" stroke="#111" stroke-width="1.6"/>
<rect x="1308.0" y="193.0" width="16.6" height="29.0" stroke="#111" stroke-width="1.8" fill="#fff" />
<rect x="1313.5" y="178" width="5" height="60" fill="#666" stroke="#111" stroke-width="1"/>
<line x1="1308.0" y1="213.0" x2="1324.6" y2="213.0" stroke="#111" stroke-width="1.2" />
<path d="M 1267.8 184.9 L 1302.2 184.9" stroke="#111" stroke-width="3"/>
<path d="M 1272 190 C 1272 178, 1298 176, 1299 190 L 1296 192.4 L 1275 192.4 Z" fill="#111"/>
<path d="M 1280 183 L 1291 183" stroke="#fff" stroke-width="1"/><path d="M 1278 190 L 1292 190" stroke="#fff" stroke-width="1.2"/>
<path d="M 1303 188 C 1306 176, 1330 176, 1332.9 188 L 1328 192.4 L 1307 192.4 Z" fill="#111"/>
<path d="M 1311 186 L 1322 186" stroke="#fff" stroke-width="1"/>
<rect x="1310.5" y="172.4" width="11.2" height="6.6" stroke="#111" stroke-width="1.8" fill="#fff" />
<path d="M 1337.7 222 L 1345 222 L 1346 210 L 1337 210 Z" fill="#fff" stroke="#111" stroke-width="1.5"/>
<path d="M 1341 218 L 1341 194 Q 1341 186 1349 186 L 1421 186" stroke="#111" stroke-width="5" fill="none"/>
<path d="M 1341 218 L 1341 194 Q 1341 186 1349 186 L 1421 186" stroke="#ddd" stroke-width="1.5" fill="none"/>
<ellipse cx="1360" cy="173" rx="3.4" ry="6" fill="#fff" stroke="#111" stroke-width="2"/>
<path d="M 1358 173 L 1362 173" stroke="#111" stroke-width="1.5"/>
<path d="M 1356.4 168.5 L 1363.6 168.5" stroke="#111" stroke-width="1.6"/>
<line x1="1360.0" y1="179.0" x2="1360.0" y2="186.0" stroke="#111" stroke-width="2.6" />
<ellipse cx="1383" cy="173" rx="3.4" ry="6" fill="#fff" stroke="#111" stroke-width="2"/>
<path d="M 1381 173 L 1385 173" stroke="#111" stroke-width="1.5"/>
<path d="M 1379.4 168.5 L 1386.6 168.5" stroke="#111" stroke-width="1.6"/>
<line x1="1383.0" y1="179.0" x2="1383.0" y2="186.0" stroke="#111" stroke-width="2.6" />
<path d="M 1262 274 L 1309.5 274" stroke="#111" stroke-width="5"/>
<path d="M 1262 274 L 1309.5 274" stroke="#ddd" stroke-width="1.5"/>
<rect x="1250.0" y="270.0" width="12.0" height="8.0" stroke="#111" stroke-width="1" fill="#111" />
<ellipse cx="1270.9" cy="260" rx="3.4" ry="6" fill="#fff" stroke="#111" stroke-width="2"/>
<path d="M 1268.9 260 L 1272.9 260" stroke="#111" stroke-width="1.5"/>
<path d="M 1267.3000000000002 255.5 L 1274.5 255.5" stroke="#111" stroke-width="1.6"/>
<line x1="1270.9" y1="266.0" x2="1270.9" y2="274.0" stroke="#111" stroke-width="2.6" />
<ellipse cx="1291.8" cy="260" rx="3.4" ry="6" fill="#fff" stroke="#111" stroke-width="2"/>
<path d="M 1289.8 260 L 1293.8 260" stroke="#111" stroke-width="1.5"/>
<path d="M 1288.2 255.5 L 1295.3999999999999 255.5" stroke="#111" stroke-width="1.6"/>
<line x1="1291.8" y1="266.0" x2="1291.8" y2="274.0" stroke="#111" stroke-width="2.6" />
<rect x="1316.0" y="92.0" width="102.3" height="22.2" stroke="#111" stroke-width="1.6" fill="#fff" rx="1.5"/>
<line x1="1342.0" y1="92.0" x2="1342.0" y2="114.2" stroke="#111" stroke-width="1.6" />
<line x1="1366.7" y1="92.0" x2="1366.7" y2="114.2" stroke="#111" stroke-width="1.6" />
<line x1="1392.2" y1="92.0" x2="1392.2" y2="114.2" stroke="#111" stroke-width="1.6" />
<text x="1329" y="108.7" class="lb" text-anchor="middle" font-size="15" textLength="14.5" lengthAdjust="spacingAndGlyphs">А1</text>
<text x="1354.3" y="108.7" class="lb" text-anchor="middle" font-size="15" textLength="14.5" lengthAdjust="spacingAndGlyphs">Г1</text>
<text x="1379.4" y="108.7" class="lb" text-anchor="middle" font-size="15" textLength="14.5" lengthAdjust="spacingAndGlyphs">В1</text>
<text x="1405.2" y="108.7" class="lb" text-anchor="middle" font-size="15" textLength="14.5" lengthAdjust="spacingAndGlyphs">Д1</text>
<line x1="1316.0" y1="114.0" x2="1316.0" y2="173.5" stroke="#111" stroke-width="1.3" />
<rect x="1289.9" y="122.2" width="25.3" height="22.3" stroke="#1a1a1a" stroke-width="1.6" fill="#fff" rx="1.5"/>
<text x="1302.6" y="138.9" class="lb" text-anchor="middle" font-size="15" textLength="14.5" lengthAdjust="spacingAndGlyphs">Н1</text>
<line x1="1290.0" y1="144.5" x2="1290.0" y2="177.0" stroke="#111" stroke-width="1.3" />
<rect x="1335.6" y="128.0" width="24.7" height="22.1" stroke="#1a1a1a" stroke-width="1.6" fill="#fff" rx="1.5"/>
<text x="1347.9" y="144.7" class="lb" text-anchor="middle" font-size="15" textLength="14.5" lengthAdjust="spacingAndGlyphs">Е1</text>
<line x1="1360.0" y1="150.0" x2="1360.0" y2="167.0" stroke="#111" stroke-width="1.3" />
<rect x="1383.3" y="128.0" width="26.4" height="22.0" stroke="#1a1a1a" stroke-width="1.6" fill="#fff" rx="1.5"/>
<text x="1396.5" y="144.6" class="lb" text-anchor="middle" font-size="15" textLength="14.5" lengthAdjust="spacingAndGlyphs">Л1</text>
<line x1="1383.0" y1="150.0" x2="1383.0" y2="167.0" stroke="#111" stroke-width="1.3" />
<rect x="1435.2" y="185.5" width="26.1" height="22.5" stroke="#1a1a1a" stroke-width="1.6" fill="#fff" rx="1.5"/>
<text x="1448.2" y="202.3" class="lb" text-anchor="middle" font-size="15" textLength="14.5" lengthAdjust="spacingAndGlyphs">Б1</text>
<line x1="1435.0" y1="186.0" x2="1421.0" y2="186.0" stroke="#111" stroke-width="1.3" />
<rect x="1162.6" y="252.0" width="26.4" height="22.2" stroke="#1a1a1a" stroke-width="1.6" fill="#fff" rx="1.5"/>
<text x="1175.8" y="268.7" class="lb" text-anchor="middle" font-size="15" textLength="14.5" lengthAdjust="spacingAndGlyphs">К1</text>
<rect x="1161.3" y="274.2" width="27.7" height="21.8" stroke="#1a1a1a" stroke-width="1.6" fill="#fff" rx="1.5"/>
<text x="1175.2" y="290.7" class="lb" text-anchor="middle" font-size="15" textLength="16" lengthAdjust="spacingAndGlyphs">Ж1</text>
<line x1="1189.0" y1="274.0" x2="1250.0" y2="274.0" stroke="#111" stroke-width="1.3" />
<text x="1680" y="103" class="tt" font-size="27" textLength="202" lengthAdjust="spacingAndGlyphs">Таблица штуцеров</text>
<rect x="1491.0" y="118.0" width="537.3" height="372.1" stroke="#111" stroke-width="2" fill="none" />
<line x1="1597.0" y1="118.0" x2="1597.0" y2="490.1" stroke="#111" stroke-width="2" />
<line x1="1908.8" y1="118.0" x2="1908.8" y2="490.1" stroke="#111" stroke-width="2" />
<line x1="1968.6" y1="118.0" x2="1968.6" y2="490.1" stroke="#111" stroke-width="2" />
<line x1="1491.0" y1="144.2" x2="2028.3" y2="144.2" stroke="#111" stroke-width="2" />
<line x1="1491.0" y1="170.8" x2="2028.3" y2="170.8" stroke="#111" stroke-width="2" />
<line x1="1491.0" y1="197.4" x2="2028.3" y2="197.4" stroke="#111" stroke-width="2" />
<line x1="1491.0" y1="224.0" x2="2028.3" y2="224.0" stroke="#111" stroke-width="2" />
<line x1="1491.0" y1="250.6" x2="2028.3" y2="250.6" stroke="#111" stroke-width="2" />
<line x1="1491.0" y1="277.2" x2="2028.3" y2="277.2" stroke="#111" stroke-width="2" />
<line x1="1491.0" y1="303.8" x2="2028.3" y2="303.8" stroke="#111" stroke-width="2" />
<line x1="1491.0" y1="330.5" x2="2028.3" y2="330.5" stroke="#111" stroke-width="2" />
<line x1="1491.0" y1="357.1" x2="2028.3" y2="357.1" stroke="#111" stroke-width="2" />
<line x1="1491.0" y1="383.7" x2="2028.3" y2="383.7" stroke="#111" stroke-width="2" />
<line x1="1491.0" y1="410.3" x2="2028.3" y2="410.3" stroke="#111" stroke-width="2" />
<line x1="1491.0" y1="436.9" x2="2028.3" y2="436.9" stroke="#111" stroke-width="2" />
<line x1="1491.0" y1="463.5" x2="2028.3" y2="463.5" stroke="#111" stroke-width="2" />
<line x1="1491.0" y1="490.1" x2="2028.3" y2="490.1" stroke="#111" stroke-width="2" />
<text x="1543.5" y="137" class="tx" text-anchor="middle" font-size="14" textLength="67" lengthAdjust="spacingAndGlyphs">Обозначение</text>
<text x="1726" y="137" class="tx" text-anchor="middle" font-size="14" textLength="60" lengthAdjust="spacingAndGlyphs">Назначение</text>
<text x="1937" y="137" class="tx" text-anchor="middle" font-size="14" textLength="39" lengthAdjust="spacingAndGlyphs">Ду, мм</text>
<text x="1997" y="137" class="tx" text-anchor="middle" font-size="14" textLength="38" lengthAdjust="spacingAndGlyphs">Кол-во</text>
<text x="1549" y="164.5" class="tx" text-anchor="middle" font-size="15" textLength="14" lengthAdjust="spacingAndGlyphs">А1</text>
<text x="1603" y="164.5" class="tx" font-size="15" textLength="139" lengthAdjust="spacingAndGlyphs">Датчик уровня в корпусе</text>
<text x="1938" y="164.5" class="tx" text-anchor="middle" font-size="15" textLength="15.0" lengthAdjust="spacingAndGlyphs">80</text>
<text x="1997.6" y="164.5" class="tx" text-anchor="middle" font-size="15">1</text>
<text x="1549" y="191.1" class="tx" text-anchor="middle" font-size="15" textLength="14" lengthAdjust="spacingAndGlyphs">Б1</text>
<text x="1603" y="191.1" class="tx" font-size="15" textLength="141.6" lengthAdjust="spacingAndGlyphs">Передавливание одоранта</text>
<text x="1938" y="191.1" class="tx" text-anchor="middle" font-size="15" textLength="15.0" lengthAdjust="spacingAndGlyphs">25</text>
<text x="1997.6" y="191.1" class="tx" text-anchor="middle" font-size="15">1</text>
<text x="1549" y="217.7" class="tx" text-anchor="middle" font-size="15" textLength="14" lengthAdjust="spacingAndGlyphs">В1</text>
<text x="1603" y="217.7" class="tx" font-size="15" textLength="95.7" lengthAdjust="spacingAndGlyphs">Грязевик корпуса</text>
<text x="1938" y="217.7" class="tx" text-anchor="middle" font-size="15" textLength="15.0" lengthAdjust="spacingAndGlyphs">25</text>
<text x="1997.6" y="217.7" class="tx" text-anchor="middle" font-size="15">1</text>
<text x="1549" y="244.3" class="tx" text-anchor="middle" font-size="15" textLength="14" lengthAdjust="spacingAndGlyphs">Г1</text>
<text x="1603" y="244.3" class="tx" font-size="15" textLength="97.9" lengthAdjust="spacingAndGlyphs">Грязевик рубашки</text>
<text x="1938" y="244.3" class="tx" text-anchor="middle" font-size="15" textLength="15.0" lengthAdjust="spacingAndGlyphs">25</text>
<text x="1997.6" y="244.3" class="tx" text-anchor="middle" font-size="15">1</text>
<text x="1549" y="270.9" class="tx" text-anchor="middle" font-size="15" textLength="14" lengthAdjust="spacingAndGlyphs">Д1</text>
<text x="1603" y="270.9" class="tx" font-size="15" textLength="140.8" lengthAdjust="spacingAndGlyphs">Подача и отвод одоранта</text>
<text x="1938" y="270.9" class="tx" text-anchor="middle" font-size="15" textLength="15.0" lengthAdjust="spacingAndGlyphs">50</text>
<text x="1997.6" y="270.9" class="tx" text-anchor="middle" font-size="15">1</text>
<text x="1549" y="297.5" class="tx" text-anchor="middle" font-size="15" textLength="14" lengthAdjust="spacingAndGlyphs">Е1</text>
<text x="1603" y="297.5" class="tx" font-size="15" textLength="204.5" lengthAdjust="spacingAndGlyphs">Преобразователь давления в корпусе</text>
<text x="1938" y="297.5" class="tx" text-anchor="middle" font-size="15" textLength="41.5" lengthAdjust="spacingAndGlyphs">M20x1,5</text>
<text x="1997.6" y="297.5" class="tx" text-anchor="middle" font-size="15">1</text>
<text x="1549" y="324.1" class="tx" text-anchor="middle" font-size="15" textLength="14" lengthAdjust="spacingAndGlyphs">Ж1</text>
<text x="1603" y="324.1" class="tx" font-size="15" textLength="113.5" lengthAdjust="spacingAndGlyphs">Подача и отвод газа</text>
<text x="1938" y="324.1" class="tx" text-anchor="middle" font-size="15" textLength="41.5" lengthAdjust="spacingAndGlyphs">M20x1,5</text>
<text x="1997.6" y="324.1" class="tx" text-anchor="middle" font-size="15">1</text>
<text x="1549" y="350.8" class="tx" text-anchor="middle" font-size="15" textLength="14" lengthAdjust="spacingAndGlyphs">И1</text>
<text x="1603" y="350.8" class="tx" font-size="15" textLength="207.3" lengthAdjust="spacingAndGlyphs">Преобразователь давления в рубашке</text>
<text x="1938" y="350.8" class="tx" text-anchor="middle" font-size="15" textLength="41.5" lengthAdjust="spacingAndGlyphs">M20x1,5</text>
<text x="1997.6" y="350.8" class="tx" text-anchor="middle" font-size="15">1</text>
<text x="1549" y="377.4" class="tx" text-anchor="middle" font-size="15" textLength="14" lengthAdjust="spacingAndGlyphs">К1</text>
<text x="1603" y="377.4" class="tx" font-size="15" textLength="56" lengthAdjust="spacingAndGlyphs">Резервный</text>
<text x="1938" y="377.4" class="tx" text-anchor="middle" font-size="15" textLength="15.0" lengthAdjust="spacingAndGlyphs">15</text>
<text x="1997.6" y="377.4" class="tx" text-anchor="middle" font-size="15">1</text>
<text x="1549" y="404.0" class="tx" text-anchor="middle" font-size="15" textLength="14" lengthAdjust="spacingAndGlyphs">Л1</text>
<text x="1603" y="404.0" class="tx" font-size="15" textLength="123.6" lengthAdjust="spacingAndGlyphs">Манометр для корпуса</text>
<text x="1938" y="404.0" class="tx" text-anchor="middle" font-size="15" textLength="41.5" lengthAdjust="spacingAndGlyphs">M20x1,5</text>
<text x="1997.6" y="404.0" class="tx" text-anchor="middle" font-size="15">1</text>
<text x="1549" y="430.6" class="tx" text-anchor="middle" font-size="15" textLength="14" lengthAdjust="spacingAndGlyphs">Л2</text>
<text x="1603" y="430.6" class="tx" font-size="15" textLength="126.3" lengthAdjust="spacingAndGlyphs">Манометр для рубашки</text>
<text x="1938" y="430.6" class="tx" text-anchor="middle" font-size="15" textLength="41.5" lengthAdjust="spacingAndGlyphs">M20x1,5</text>
<text x="1997.6" y="430.6" class="tx" text-anchor="middle" font-size="15">1</text>
<text x="1549" y="457.2" class="tx" text-anchor="middle" font-size="15" textLength="14" lengthAdjust="spacingAndGlyphs">Н1</text>
<text x="1603" y="457.2" class="tx" font-size="15" textLength="56" lengthAdjust="spacingAndGlyphs">Резервный</text>
<text x="1938" y="457.2" class="tx" text-anchor="middle" font-size="15" textLength="15.0" lengthAdjust="spacingAndGlyphs">50</text>
<text x="1997.6" y="457.2" class="tx" text-anchor="middle" font-size="15">1</text>
<text x="1549" y="483.8" class="tx" text-anchor="middle" font-size="15" textLength="14" lengthAdjust="spacingAndGlyphs">П1</text>
<text x="1603" y="483.8" class="tx" font-size="15" textLength="20.5" lengthAdjust="spacingAndGlyphs">Люк</text>
<text x="1938" y="483.8" class="tx" text-anchor="middle" font-size="15" textLength="22.5" lengthAdjust="spacingAndGlyphs">600</text>
<text x="1997.6" y="483.8" class="tx" text-anchor="middle" font-size="15">1</text>
<path d="M 107.7 992.1 L 1063.7 992.1 A 63.3 127 0 0 1 1127 1119.1 A 63.3 127 0 0 1 1063.7 1246.2 L 107.7 1246.2 A 63.4 127 0 0 1 44.3 1119.1 A 63.4 127 0 0 1 107.7 992.1 Z" stroke="#111" stroke-width="1.7" fill="none" />
<line x1="44.0" y1="1119.0" x2="1127.0" y2="1119.0" stroke="#111" stroke-width="1.6" />
<line x1="115.4" y1="992.0" x2="115.4" y2="1246.0" stroke="#111" stroke-width="2" />
<line x1="350.3" y1="992.0" x2="350.3" y2="1246.0" stroke="#111" stroke-width="2" />
<line x1="585.9" y1="992.0" x2="585.9" y2="1246.0" stroke="#111" stroke-width="2" />
<line x1="821.2" y1="992.0" x2="821.2" y2="1246.0" stroke="#111" stroke-width="2" />
<line x1="1056.8" y1="992.0" x2="1056.8" y2="1246.0" stroke="#111" stroke-width="2" />
<rect x="314.0" y="1025.0" width="19.5" height="43.7" stroke="#111" stroke-width="1.3" fill="none" />
<line x1="323.7" y1="1017.6" x2="323.7" y2="1068.3" stroke="#111" stroke-width="3" stroke-linecap="round"/>
<rect x="314.0" y="1170.0" width="19.5" height="42.8" stroke="#111" stroke-width="1.3" fill="none" />
<line x1="314.0" y1="1170.0" x2="333.5" y2="1170.0" stroke="#111" stroke-width="2.5" />
<line x1="323.7" y1="1178.0" x2="323.7" y2="1220.6" stroke="#111" stroke-width="3" stroke-linecap="round"/>
<rect x="832.4" y="1025.0" width="18.6" height="43.7" stroke="#111" stroke-width="1.3" fill="none" />
<line x1="841.7" y1="1017.6" x2="841.7" y2="1068.3" stroke="#111" stroke-width="3" stroke-linecap="round"/>
<rect x="832.4" y="1170.0" width="18.6" height="42.8" stroke="#111" stroke-width="1.3" fill="none" />
<line x1="832.4" y1="1170.0" x2="851.0" y2="1170.0" stroke="#111" stroke-width="2.5" />
<line x1="841.7" y1="1178.0" x2="841.7" y2="1220.6" stroke="#111" stroke-width="3" stroke-linecap="round"/>
<rect x="1127.0" y="1106.8" width="6.0" height="24.2" stroke="#111" stroke-width="1.3" fill="none" />
<circle cx="930.7" cy="1119.0" r="58.0" stroke="#111" stroke-width="1.5" fill="none" />
<circle cx="986.7" cy="1119.0" r="3" fill="#111"/>
<circle cx="985.6" cy="1129.9" r="3" fill="#111"/>
<circle cx="982.4" cy="1140.4" r="3" fill="#111"/>
<circle cx="977.3" cy="1150.1" r="3" fill="#111"/>
<circle cx="970.3" cy="1158.6" r="3" fill="#111"/>
<circle cx="961.8" cy="1165.6" r="3" fill="#111"/>
<circle cx="952.1" cy="1170.7" r="3" fill="#111"/>
<circle cx="941.6" cy="1173.9" r="3" fill="#111"/>
<circle cx="930.7" cy="1175.0" r="3" fill="#111"/>
<circle cx="919.8" cy="1173.9" r="3" fill="#111"/>
<circle cx="909.3" cy="1170.7" r="3" fill="#111"/>
<circle cx="899.6" cy="1165.6" r="3" fill="#111"/>
<circle cx="891.1" cy="1158.6" r="3" fill="#111"/>
<circle cx="884.1" cy="1150.1" r="3" fill="#111"/>
<circle cx="879.0" cy="1140.4" r="3" fill="#111"/>
<circle cx="875.8" cy="1129.9" r="3" fill="#111"/>
<circle cx="874.7" cy="1119.0" r="3" fill="#111"/>
<circle cx="875.8" cy="1108.1" r="3" fill="#111"/>
<circle cx="879.0" cy="1097.6" r="3" fill="#111"/>
<circle cx="884.1" cy="1087.9" r="3" fill="#111"/>
<circle cx="891.1" cy="1079.4" r="3" fill="#111"/>
<circle cx="899.6" cy="1072.4" r="3" fill="#111"/>
<circle cx="909.3" cy="1067.3" r="3" fill="#111"/>
<circle cx="919.8" cy="1064.1" r="3" fill="#111"/>
<circle cx="930.7" cy="1063.0" r="3" fill="#111"/>
<circle cx="941.6" cy="1064.1" r="3" fill="#111"/>
<circle cx="952.1" cy="1067.3" r="3" fill="#111"/>
<circle cx="961.8" cy="1072.4" r="3" fill="#111"/>
<circle cx="970.3" cy="1079.4" r="3" fill="#111"/>
<circle cx="977.3" cy="1087.9" r="3" fill="#111"/>
<circle cx="982.4" cy="1097.6" r="3" fill="#111"/>
<circle cx="985.6" cy="1108.1" r="3" fill="#111"/>
<line x1="930.7" y1="1061.7" x2="930.7" y2="1213.0" stroke="#111" stroke-width="1.3" />
<circle cx="899.5" cy="1119.0" r="14.6" stroke="#111" stroke-width="1.5" fill="none" />
<circle cx="910.0" cy="1119.0" r="1.5" fill="#111"/>
<circle cx="906.9" cy="1126.4" r="1.5" fill="#111"/>
<circle cx="899.5" cy="1129.5" r="1.5" fill="#111"/>
<circle cx="892.1" cy="1126.4" r="1.5" fill="#111"/>
<circle cx="889.0" cy="1119.0" r="1.5" fill="#111"/>
<circle cx="892.1" cy="1111.6" r="1.5" fill="#111"/>
<circle cx="899.5" cy="1108.5" r="1.5" fill="#111"/>
<circle cx="906.9" cy="1111.6" r="1.5" fill="#111"/>
<circle cx="946.6" cy="1092.2" r="12.5" stroke="#111" stroke-width="1.5" fill="none" />
<circle cx="955.6" cy="1092.2" r="1.5" fill="#111"/>
<circle cx="953.0" cy="1098.6" r="1.5" fill="#111"/>
<circle cx="946.6" cy="1101.2" r="1.5" fill="#111"/>
<circle cx="940.2" cy="1098.6" r="1.5" fill="#111"/>
<circle cx="937.6" cy="1092.2" r="1.5" fill="#111"/>
<circle cx="940.2" cy="1085.8" r="1.5" fill="#111"/>
<circle cx="946.6" cy="1083.2" r="1.5" fill="#111"/>
<circle cx="953.0" cy="1085.8" r="1.5" fill="#111"/>
<circle cx="962.4" cy="1119.0" r="12.0" stroke="#111" stroke-width="1.5" fill="none" />
<circle cx="971.0" cy="1119.0" r="1.5" fill="#111"/>
<circle cx="968.5" cy="1125.1" r="1.5" fill="#111"/>
<circle cx="962.4" cy="1127.6" r="1.5" fill="#111"/>
<circle cx="956.3" cy="1125.1" r="1.5" fill="#111"/>
<circle cx="953.8" cy="1119.0" r="1.5" fill="#111"/>
<circle cx="956.3" cy="1112.9" r="1.5" fill="#111"/>
<circle cx="962.4" cy="1110.4" r="1.5" fill="#111"/>
<circle cx="968.5" cy="1112.9" r="1.5" fill="#111"/>
<circle cx="930.7" cy="1119.0" r="9.0" stroke="#111" stroke-width="1.5" fill="none" />
<circle cx="937.2" cy="1119.0" r="1.5" fill="#111"/>
<circle cx="935.3" cy="1123.6" r="1.5" fill="#111"/>
<circle cx="930.7" cy="1125.5" r="1.5" fill="#111"/>
<circle cx="926.1" cy="1123.6" r="1.5" fill="#111"/>
<circle cx="924.2" cy="1119.0" r="1.5" fill="#111"/>
<circle cx="926.1" cy="1114.4" r="1.5" fill="#111"/>
<circle cx="930.7" cy="1112.5" r="1.5" fill="#111"/>
<circle cx="935.3" cy="1114.4" r="1.5" fill="#111"/>
<circle cx="899.5" cy="1119.0" r="5.0" stroke="#111" stroke-width="1.3" fill="none" />
<circle cx="946.6" cy="1092.2" r="4.0" stroke="#111" stroke-width="2" fill="none" />
<circle cx="962.4" cy="1119.0" r="4.0" stroke="#111" stroke-width="2" fill="none" />
<circle cx="941.7" cy="1130.0" r="5.0" stroke="#111" stroke-width="2" fill="#fff" />
<line x1="936.7" y1="1130.0" x2="946.7" y2="1130.0" stroke="#111" stroke-width="1" />
<circle cx="961.2" cy="1078.8" r="6.0" stroke="#111" stroke-width="2" fill="#fff" />
<line x1="955.2" y1="1078.8" x2="967.2" y2="1078.8" stroke="#111" stroke-width="1" />
<circle cx="975.9" cy="1104.4" r="6.0" stroke="#111" stroke-width="2" fill="#fff" />
<line x1="969.9" y1="1104.4" x2="981.9" y2="1104.4" stroke="#111" stroke-width="1" />
<circle cx="789.0" cy="1119.0" r="23.0" stroke="#111" stroke-width="1.4" fill="none" />
<circle cx="789.0" cy="1119.0" r="12.0" stroke="#111" stroke-width="3" fill="none" />
<circle cx="789.5" cy="1119" r="11" fill="#222"/>
<circle cx="793.4" cy="1122.9" r="3.6" fill="#fff"/>
<circle cx="793.4" cy="1122.9" r="1.8" fill="#111"/>
<circle cx="785.6" cy="1122.9" r="3.6" fill="#fff"/>
<circle cx="785.6" cy="1122.9" r="1.8" fill="#111"/>
<circle cx="785.6" cy="1115.1" r="3.6" fill="#fff"/>
<circle cx="785.6" cy="1115.1" r="1.8" fill="#111"/>
<circle cx="793.4" cy="1115.1" r="3.6" fill="#fff"/>
<circle cx="793.4" cy="1115.1" r="1.8" fill="#111"/>
<circle cx="801.2" cy="1108.1" r="5.0" stroke="#111" stroke-width="1.8" fill="#333" />
<path d="M 798 1108 L 804.4 1108 M 801.2 1105 L 801.2 1111" stroke="#ccc" stroke-width="1"/>
<line x1="646.8" y1="975.0" x2="723.7" y2="1054.4" stroke="#111" stroke-width="1.3" />
<line x1="723.7" y1="1054.4" x2="781.0" y2="1110.5" stroke="#111" stroke-width="6" />
<line x1="723.7" y1="1054.4" x2="781.0" y2="1110.5" stroke="#777" stroke-width="2" stroke-dasharray="2 2"/>
<circle cx="744" cy="1074" r="3.5" fill="#111"/>
<circle cx="765" cy="1094" r="3.5" fill="#111"/>
<line x1="790.0" y1="1052.0" x2="790.0" y2="1110.0" stroke="#111" stroke-width="3" />
<ellipse cx="790" cy="1057" rx="4" ry="5" fill="#fff" stroke="#111" stroke-width="1.5"/>
<line x1="914.9" y1="1142.2" x2="857.6" y2="1222.7" stroke="#111" stroke-width="6" />
<line x1="914.9" y1="1142.2" x2="857.6" y2="1222.7" stroke="#888" stroke-width="2" stroke-dasharray="2 2"/>
<circle cx="915.0" cy="1141.0" r="4.0" stroke="#111" stroke-width="2" fill="#fff" />
<circle cx="881" cy="1188" r="3.5" fill="#111"/>
<line x1="857.6" y1="1222.7" x2="825.9" y2="1269.0" stroke="#111" stroke-width="1.3" />
<rect x="620.5" y="953.7" width="26.3" height="21.4" stroke="#1a1a1a" stroke-width="1.6" fill="#fff" rx="1.5"/>
<text x="633.6" y="970.0" class="lb" text-anchor="middle" font-size="15" textLength="14.5" lengthAdjust="spacingAndGlyphs">К1</text>
<rect x="744.4" y="944.6" width="28.5" height="22.0" stroke="#1a1a1a" stroke-width="1.6" fill="#fff" rx="1.5"/>
<text x="758.6" y="961.2" class="lb" text-anchor="middle" font-size="15" textLength="14.5" lengthAdjust="spacingAndGlyphs">Л2</text>
<line x1="744.4" y1="966.6" x2="744.4" y2="1070.0" stroke="#111" stroke-width="1.3" />
<rect x="765.1" y="968.3" width="25.6" height="21.5" stroke="#1a1a1a" stroke-width="1.6" fill="#fff" rx="1.5"/>
<text x="777.9" y="984.6" class="lb" text-anchor="middle" font-size="15" textLength="14.5" lengthAdjust="spacingAndGlyphs">И1</text>
<line x1="765.1" y1="989.8" x2="765.1" y2="1088.5" stroke="#111" stroke-width="1.3" />
<rect x="789.5" y="952.7" width="27.5" height="21.9" stroke="#1a1a1a" stroke-width="1.6" fill="#fff" rx="1.5"/>
<text x="803.2" y="969.3" class="lb" text-anchor="middle" font-size="15" textLength="16" lengthAdjust="spacingAndGlyphs">Ж1</text>
<line x1="789.5" y1="974.6" x2="789.5" y2="1052.0" stroke="#111" stroke-width="1.3" />
<rect x="764.4" y="1178.8" width="25.8" height="22.4" stroke="#1a1a1a" stroke-width="1.6" fill="#fff" rx="1.5"/>
<text x="777.3" y="1195.6" class="lb" text-anchor="middle" font-size="15" textLength="14.5" lengthAdjust="spacingAndGlyphs">Г1</text>
<line x1="790.2" y1="1178.8" x2="790.2" y2="1140.0" stroke="#111" stroke-width="1.3" />
<rect x="800.5" y="1268.5" width="26.3" height="22.0" stroke="#1a1a1a" stroke-width="1.6" fill="#fff" rx="1.5"/>
<text x="813.6" y="1285.1" class="lb" text-anchor="middle" font-size="15" textLength="14.5" lengthAdjust="spacingAndGlyphs">Б1</text>
<rect x="873.0" y="1031.2" width="27.2" height="23.2" stroke="#1a1a1a" stroke-width="1.6" fill="#fff" rx="1.5"/>
<text x="886.6" y="1048.4" class="lb" text-anchor="middle" font-size="15" textLength="14.5" lengthAdjust="spacingAndGlyphs">А1</text>
<line x1="900.2" y1="1054.4" x2="900.2" y2="1119.0" stroke="#111" stroke-width="1.3" />
<rect x="946.1" y="946.6" width="26.6" height="21.9" stroke="#1a1a1a" stroke-width="1.6" fill="#fff" rx="1.5"/>
<text x="959.4" y="963.1" class="lb" text-anchor="middle" font-size="15" textLength="14.5" lengthAdjust="spacingAndGlyphs">Н1</text>
<line x1="946.1" y1="968.5" x2="946.1" y2="1080.0" stroke="#111" stroke-width="1.3" />
<rect x="1021.0" y="1097.8" width="26.8" height="21.2" stroke="#1a1a1a" stroke-width="1.6" fill="#fff" rx="1.5"/>
<text x="1034.4" y="1114.0" class="lb" text-anchor="middle" font-size="15" textLength="14.5" lengthAdjust="spacingAndGlyphs">Д1</text>
<rect x="930.7" y="1213.0" width="26.3" height="21.9" stroke="#1a1a1a" stroke-width="1.6" fill="#fff" rx="1.5"/>
<text x="943.9" y="1229.5" class="lb" text-anchor="middle" font-size="15" textLength="14.5" lengthAdjust="spacingAndGlyphs">В1</text>
</svg></body></html>
